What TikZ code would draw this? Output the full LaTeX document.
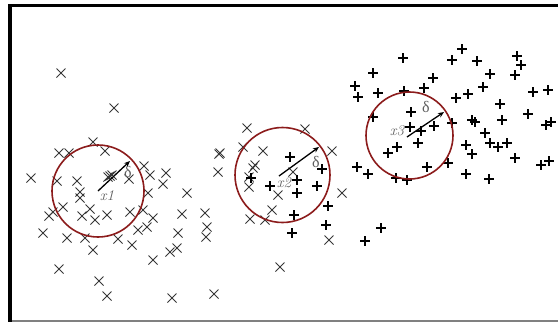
\documentclass[tikz,border=0pt]{standalone}
\usepackage{fontspec}
\usepackage{tikz}
\usetikzlibrary{arrows.meta}
\newfontfamily\grkfont{Liberation Serif}
\definecolor{ringred}{RGB}{140,28,28}
\definecolor{markgray}{RGB}{55,55,55}
\definecolor{labgray}{RGB}{95,95,95}
\tikzset{
  ring/.style={draw=ringred,line width=1.6pt},
  radius arrow/.style={-{Stealth[length=6pt,width=5pt]},line width=1.3pt,black},
  lab/.style={text=labgray,font=\fontsize{15}{15}\selectfont\itshape,inner sep=0pt},
  dlab/.style={text=labgray,font=\grkfont\fontsize{16}{16}\selectfont,inner sep=0pt},
  xmark/.style={draw=markgray,line width=0.9pt},
  pmark/.style={draw=black,line width=1.1pt}
}
\begin{document}
\begin{tikzpicture}[x=1pt,y=-1pt]
\useasboundingbox (0,0) rectangle (558,322);
\fill[white] (0,0) rectangle (558,322);
% frame
\draw[black,line width=3.5pt] (8,5.5) -- (558,5.5);
\draw[black,line width=4pt] (10,4) -- (10,322);
\draw[gray,line width=1.5pt] (12,321) -- (558,321);
% x marks
\foreach \a/\b in {61/73,114/108,93/142,59/153,69/153,105/151,31/178,57/181,77/181,80/192,80/198,
  144/166,150/175,166/173,163/184,129/179,148/193,187/193,53/212,63/207,49/216,82/216,90/209,95/220,
  107/215,130/212,143/210,153/218,147/227,138/230,182/214,205/213,43/233,67/238,85/238,93/250,
  118/239,132/245,178/233,207/227,170/252,177/248,153/260,59/269,99/281,107/296,172/298,214/294,
  220/153,219/154,218/172,247/128,243/147,263/151,255/165,253/168,249/177,249/187,250/219,265/220,
  305/129,332/151,293/172,278/195,342/193,272/210,206/237,329/240,280/267,
  108/177,110/176,112/175}
  \draw[xmark] (\a-4.5,\b-4.5) -- (\a+4.5,\b+4.5) (\a-4.5,\b+4.5) -- (\a+4.5,\b-4.5);
% plus marks
\foreach \a/\b in {290/157,322/169,251/178,270/186,297/180,297/193,317/186,328/206,294/215,326/225,
  292/233,381/228,365/241,357/167,368/174,396/178,407/180,427/167,448/163,466/174,489/179,
  388/153,397/147,418/143,410/127,421/131,434/126,411/112,373/117,355/86,358/97,373/73,378/93,
  403/58,404/91,424/88,433/78,452/60,462/49,477/61,490/74,483/87,456/98,468/94,452/123,472/120,
  475/122,500/104,502/120,485/133,490/143,498/147,507/143,466/145,472/154,515/158,517/56,521/65,
  515/75,533/92,548/90,528/114,546/125,551/122,541/165,549/161}
  \draw[pmark] (\a-5,\b) -- (\a+5,\b) (\a,\b-5) -- (\a,\b+5);
% circles
\node[ring,circle,minimum size=92pt,inner sep=0pt] (c1) at (98,191) {};
\node[ring,circle,minimum size=95pt,inner sep=0pt] (c2) at (282.5,175) {};
\node[ring,circle,minimum size=87pt,inner sep=0pt] (c3) at (409.5,135.5) {};
% centers and arrow tips
\coordinate (p1) at (98,191);
\coordinate (q1) at (130,161);
\coordinate (p2) at (279,176);
\coordinate (q2) at (319,147);
\coordinate (p3) at (407,137);
\coordinate (q3) at (444,112);
\draw[radius arrow] (p1) -- (q1);
\draw[radius arrow] (p2) -- (q2);
\draw[radius arrow] (p3) -- (q3);
% labels
\node[lab] (l1) at (107,196) {x1};
\node[lab] (l2) at (284,183) {x2};
\node[lab] (l3) at (397,131) {x3};
\node[dlab] (d1) at (128,172) {δ};
\node[dlab] (d2) at (316,162) {δ};
\node[dlab] (d3) at (426,107) {δ};
\end{tikzpicture}
\end{document}
